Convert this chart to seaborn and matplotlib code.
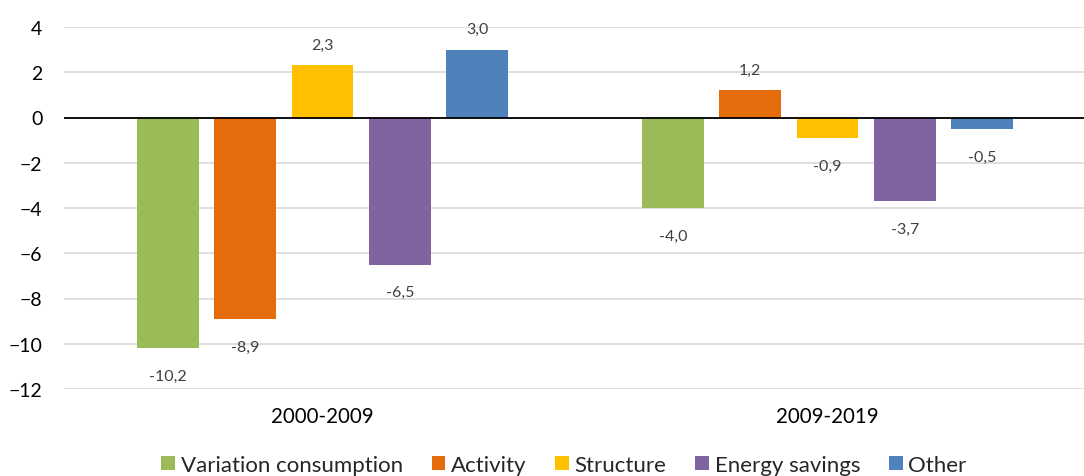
import matplotlib
matplotlib.use("Agg")
import matplotlib.pyplot as plt
import seaborn as sns
import pandas as pd

periods = ["2000-2009", "2009-2019"]
components = ["Variation consumption", "Activity", "Structure", "Energy savings", "Other"]
variation_consumption = [-10.2, -4.0]
activity = [-8.9, 1.2]
structure = [2.3, -0.9]
energy_savings = [-6.5, -3.7]
other = [3.0, -0.5]
colors = ["#9BBB59", "#E46C0A", "#FFC000", "#8064A2", "#4F81BD"]

series = [variation_consumption, activity, structure, energy_savings, other]
rows = []
for comp, vals in zip(components, series):
    for p, v in zip(periods, vals):
        rows.append({"period": p, "component": comp, "value": v})
df = pd.DataFrame(rows)

sns.set_theme(style="white")
plt.rcParams["font.family"] = ["Lato", "DejaVu Sans"]

fig = plt.figure(figsize=(10.84, 4.77), dpi=100)
ax = fig.add_axes([64 / 1084, 1 - 390 / 477, (1084 - 64) / 1084, 362 / 477])

sns.barplot(data=df, x="period", y="value", hue="component", hue_order=components,
            order=periods, palette=colors, width=0.765, gap=0.2, saturation=1,
            edgecolor="none", ax=ax, legend=True)

ax.set_ylim(-12, 4)
ax.set_xlim(-0.512, 1.508)
ax.set_yticks(range(-12, 5, 2))
ax.yaxis.grid(True, color="#D9D9D9", linewidth=1.2)
ax.set_axisbelow(True)
ax.axhline(0, color="black", linewidth=1.3, zorder=3)
for s in ax.spines.values():
    s.set_visible(False)
ax.tick_params(axis="y", length=0, pad=15.5, labelsize=14, labelcolor="black")
ax.tick_params(axis="x", length=0, pad=12, labelsize=14.8, labelcolor="black")
ax.set_xlabel("")
ax.set_ylabel("")

for cont in ax.containers:
    for bar in cont:
        h = bar.get_height()
        x = bar.get_x() + bar.get_width() / 2
        off = 15 if h >= 0 else -20
        ax.annotate(f"{h:.1f}".replace(".", ","), (x, h), xytext=(0, off),
                    textcoords="offset points", ha="center", va="center",
                    fontsize=11.5, color="#404040")

handles, labels = ax.get_legend_handles_labels()
ax.legend_.remove()
fig.legend(handles, labels, loc="center", bbox_to_anchor=(564 / 1084, 1 - 466 / 477),
           ncol=5, frameon=False, fontsize=16, handlelength=0.62, handleheight=0.62,
           handletextpad=0.25, columnspacing=1.3, borderpad=0, borderaxespad=0)

fig.savefig("out.png", dpi=100)
